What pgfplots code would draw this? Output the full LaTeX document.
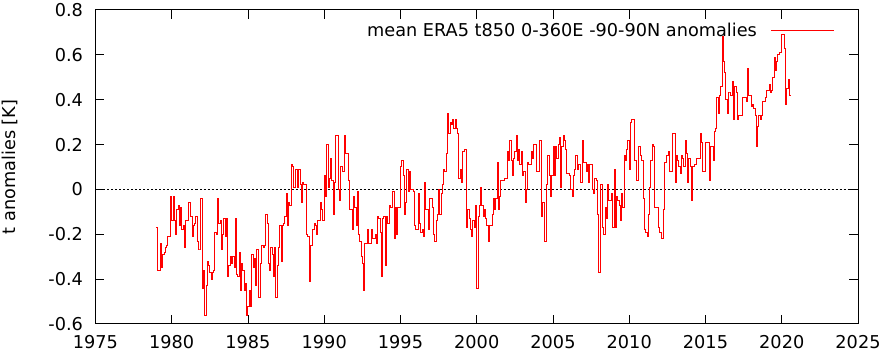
\documentclass[border=0pt]{standalone}
\usepackage{fontspec}
\setmainfont{DejaVu Sans}
\usepackage{pgfplots}
\usepackage{pgfplotstable}
\pgfplotsset{compat=1.18}
\pgfplotstableread[row sep=\\]{
t\\
-0.17\\ -0.36\\ -0.36\\ -0.24\\ -0.35\\ -0.29\\ -0.28\\ -0.26\\ -0.25\\ -0.21\\ -0.21\\ -0.03\\
-0.14\\ -0.03\\ -0.14\\ -0.20\\ -0.09\\ -0.07\\ -0.16\\ -0.08\\ -0.18\\ -0.16\\ -0.26\\ -0.14\\
-0.14\\ -0.06\\ -0.06\\ -0.12\\ -0.21\\ -0.16\\ -0.15\\ -0.12\\ -0.23\\ -0.27\\ -0.27\\ -0.04\\
-0.44\\ -0.36\\ -0.56\\ -0.43\\ -0.32\\ -0.34\\ -0.37\\ -0.40\\ -0.37\\ -0.36\\ -0.19\\ -0.20\\
-0.04\\ -0.15\\ -0.14\\ -0.27\\ -0.20\\ -0.13\\ -0.21\\ -0.13\\ -0.39\\ -0.34\\ -0.30\\ -0.33\\
-0.30\\ -0.35\\ -0.13\\ -0.38\\ -0.39\\ -0.28\\ -0.45\\ -0.33\\ -0.36\\ -0.45\\ -0.42\\ -0.56\\
-0.52\\ -0.45\\ -0.52\\ -0.29\\ -0.35\\ -0.31\\ -0.43\\ -0.27\\ -0.48\\ -0.48\\ -0.33\\ -0.25\\
-0.26\\ -0.25\\ -0.11\\ -0.15\\ -0.33\\ -0.36\\ -0.26\\ -0.29\\ -0.39\\ -0.26\\ -0.48\\ -0.34\\
-0.26\\ -0.16\\ -0.32\\ -0.16\\ -0.15\\ -0.12\\ -0.02\\ -0.16\\ -0.06\\ -0.07\\ 0.11\\ 0.10\\
0.01\\ 0.09\\ 0.09\\ 0.01\\ 0.09\\ 0.02\\ -0.06\\ 0.03\\ 0.02\\ 0.02\\ -0.20\\ -0.21\\
-0.41\\ -0.25\\ -0.25\\ -0.18\\ -0.15\\ -0.16\\ -0.20\\ -0.14\\ -0.14\\ -0.06\\ -0.09\\ -0.14\\
0.06\\ -0.03\\ 0.20\\ 0.01\\ 0.05\\ 0.14\\ 0.04\\ -0.11\\ 0.03\\ 0.24\\ 0.24\\ 0.00\\
-0.05\\ 0.10\\ 0.08\\ 0.08\\ 0.24\\ 0.16\\ 0.16\\ 0.04\\ -0.09\\ -0.09\\ -0.18\\ -0.03\\
-0.08\\ -0.16\\ -0.01\\ -0.20\\ -0.23\\ -0.30\\ -0.33\\ -0.45\\ -0.24\\ -0.24\\ -0.18\\ -0.24\\
-0.24\\ -0.18\\ -0.22\\ -0.22\\ -0.20\\ -0.24\\ -0.12\\ -0.13\\ -0.19\\ -0.39\\ -0.13\\ -0.12\\
-0.34\\ -0.12\\ -0.15\\ -0.07\\ -0.08\\ -0.08\\ -0.01\\ -0.22\\ -0.08\\ -0.20\\ -0.08\\ -0.08\\
0.10\\ 0.13\\ 0.06\\ -0.11\\ -0.06\\ 0.09\\ -0.01\\ 0.08\\ 0.00\\ 0.00\\ -0.01\\ -0.16\\
-0.18\\ -0.18\\ -0.02\\ -0.15\\ -0.19\\ -0.18\\ -0.21\\ 0.03\\ -0.09\\ -0.09\\ -0.18\\ -0.04\\
-0.04\\ -0.08\\ -0.20\\ -0.23\\ -0.14\\ -0.11\\ 0.00\\ -0.11\\ -0.02\\ 0.02\\ 0.09\\ 0.08\\
0.16\\ 0.34\\ 0.25\\ 0.30\\ 0.29\\ 0.31\\ 0.27\\ 0.31\\ 0.27\\ 0.25\\ 0.05\\ 0.09\\
0.03\\ 0.17\\ 0.18\\ 0.18\\ -0.17\\ -0.09\\ -0.13\\ -0.18\\ -0.21\\ -0.14\\ -0.17\\ -0.07\\
-0.44\\ -0.12\\ -0.07\\ 0.01\\ -0.07\\ -0.12\\ -0.09\\ -0.13\\ -0.16\\ -0.23\\ -0.16\\ -0.16\\
-0.11\\ -0.04\\ -0.09\\ -0.04\\ 0.12\\ -0.09\\ -0.03\\ 0.04\\ 0.04\\ 0.04\\ 0.05\\ 0.05\\
0.17\\ 0.13\\ 0.22\\ 0.13\\ 0.06\\ 0.14\\ 0.17\\ 0.24\\ 0.13\\ 0.18\\ 0.11\\ 0.17\\
0.06\\ 0.08\\ -0.06\\ 0.00\\ 0.12\\ 0.11\\ 0.11\\ 0.17\\ 0.14\\ 0.20\\ 0.20\\ 0.08\\
0.08\\ 0.22\\ 0.22\\ -0.12\\ -0.06\\ -0.23\\ -0.23\\ 0.02\\ 0.15\\ 0.06\\ -0.03\\ 0.06\\
0.19\\ 0.06\\ 0.19\\ 0.14\\ 0.20\\ 0.23\\ 0.01\\ 0.19\\ 0.24\\ 0.22\\ 0.18\\ 0.07\\
0.07\\ 0.06\\ 0.00\\ -0.03\\ 0.06\\ 0.09\\ 0.15\\ 0.09\\ 0.11\\ 0.11\\ 0.03\\ 0.22\\
0.12\\ 0.12\\ 0.08\\ 0.11\\ 0.03\\ 0.11\\ 0.11\\ 0.00\\ -0.02\\ 0.05\\ 0.04\\ -0.11\\
-0.37\\ 0.02\\ 0.02\\ -0.17\\ -0.20\\ -0.08\\ -0.13\\ 0.02\\ -0.05\\ -0.05\\ -0.02\\ -0.17\\
0.09\\ -0.17\\ -0.03\\ -0.05\\ -0.07\\ -0.14\\ -0.02\\ -0.08\\ 0.15\\ 0.13\\ 0.18\\ 0.22\\
0.09\\ 0.30\\ 0.31\\ 0.31\\ 0.13\\ 0.13\\ 0.04\\ 0.19\\ 0.19\\ 0.15\\ 0.13\\ -0.04\\
-0.18\\ -0.19\\ -0.21\\ -0.11\\ 0.01\\ 0.13\\ 0.20\\ 0.19\\ -0.08\\ -0.08\\ -0.08\\ -0.17\\
-0.19\\ -0.22\\ -0.22\\ -0.09\\ 0.12\\ 0.15\\ 0.15\\ 0.17\\ 0.08\\ 0.08\\ 0.25\\ 0.25\\
0.03\\ 0.15\\ 0.13\\ 0.10\\ 0.07\\ 0.15\\ 0.14\\ 0.10\\ 0.22\\ 0.16\\ 0.03\\ 0.14\\
0.10\\ -0.05\\ 0.10\\ 0.11\\ 0.11\\ 0.14\\ 0.14\\ 0.14\\ 0.25\\ 0.21\\ 0.08\\ 0.08\\
0.21\\ 0.21\\ 0.21\\ 0.04\\ 0.19\\ 0.19\\ 0.13\\ 0.26\\ 0.27\\ 0.41\\ 0.34\\ 0.42\\
0.46\\ 0.68\\ 0.57\\ 0.52\\ 0.40\\ 0.34\\ 0.43\\ 0.43\\ 0.42\\ 0.48\\ 0.31\\ 0.46\\
0.43\\ 0.31\\ 0.33\\ 0.33\\ 0.33\\ 0.41\\ 0.41\\ 0.41\\ 0.39\\ 0.54\\ 0.42\\ 0.42\\
0.37\\ 0.38\\ 0.36\\ 0.33\\ 0.19\\ 0.28\\ 0.33\\ 0.31\\ 0.33\\ 0.39\\ 0.39\\ 0.41\\
0.44\\ 0.44\\ 0.47\\ 0.43\\ 0.44\\ 0.50\\ 0.59\\ 0.53\\ 0.57\\ 0.60\\ 0.61\\ 0.61\\
0.69\\ 0.69\\ 0.63\\ 0.38\\ 0.45\\ 0.49\\ 0.42\\ 0.42\\
}\anom

\begin{document}
\begin{tikzpicture}
\begin{axis}[
  scale only axis,
  width=762.5bp, height=314bp,
  xmin=1975, xmax=2025, ymin=-0.6, ymax=0.8,
  xtick={1975,1980,1985,1990,1995,2000,2005,2010,2015,2020,2025},
  xticklabels={1975,1980,1985,1990,1995,2000,2005,2010,2015,2020,2025},
  ytick={-0.6,-0.4,-0.2,0,0.2,0.4,0.6,0.8},
  yticklabels={-0.6,-0.4,-0.2,0,0.2,0.4,0.6,0.8},
  xtick pos=both, ytick pos=both,
  tick align=inside,
  major tick length=9bp,
  minor tick num=0,
  tick style={black, line width=1bp},
  axis line style={black, line width=1bp},
  every tick label/.append style={font=\fontsize{17.7bp}{21bp}\selectfont},
  xticklabel style={yshift=-8bp},
  yticklabel style={xshift=-9bp},
  ylabel={t anomalies [K]},
  ylabel style={at={(axis description cs:-0.112,0.5)}, anchor=center, font=\fontsize{17.7bp}{21bp}\selectfont},
  legend style={draw=none, fill=none, at={(axis description cs:0.970,0.936)}, anchor=east,
    font=\fontsize{17.7bp}{21bp}\selectfont, inner sep=0pt, column sep=12bp},
  legend plot pos=right,
  legend cell align=right,
  legend image code/.code={\draw[#1] (0bp,0bp) -- (63bp,0bp);},
  clip=true,
]
\addplot[black, dotted, line width=1bp, dash pattern=on 2bp off 2bp, forget plot] coordinates {(1975,0) (2025,0)};
\addplot[red, const plot, line width=1bp, mark=none] table[x expr={1979+\coordindex/12}, y=t] {\anom};
\addlegendentry{mean ERA5 t850 0-360E -90-90N anomalies}
\end{axis}
\pgfresetboundingbox
\path[use as bounding box] ([xshift=-95.5bp,yshift=-30bp]current axis.south west) rectangle ([xshift=23bp,yshift=10bp]current axis.north east);
\end{tikzpicture}
\end{document}
